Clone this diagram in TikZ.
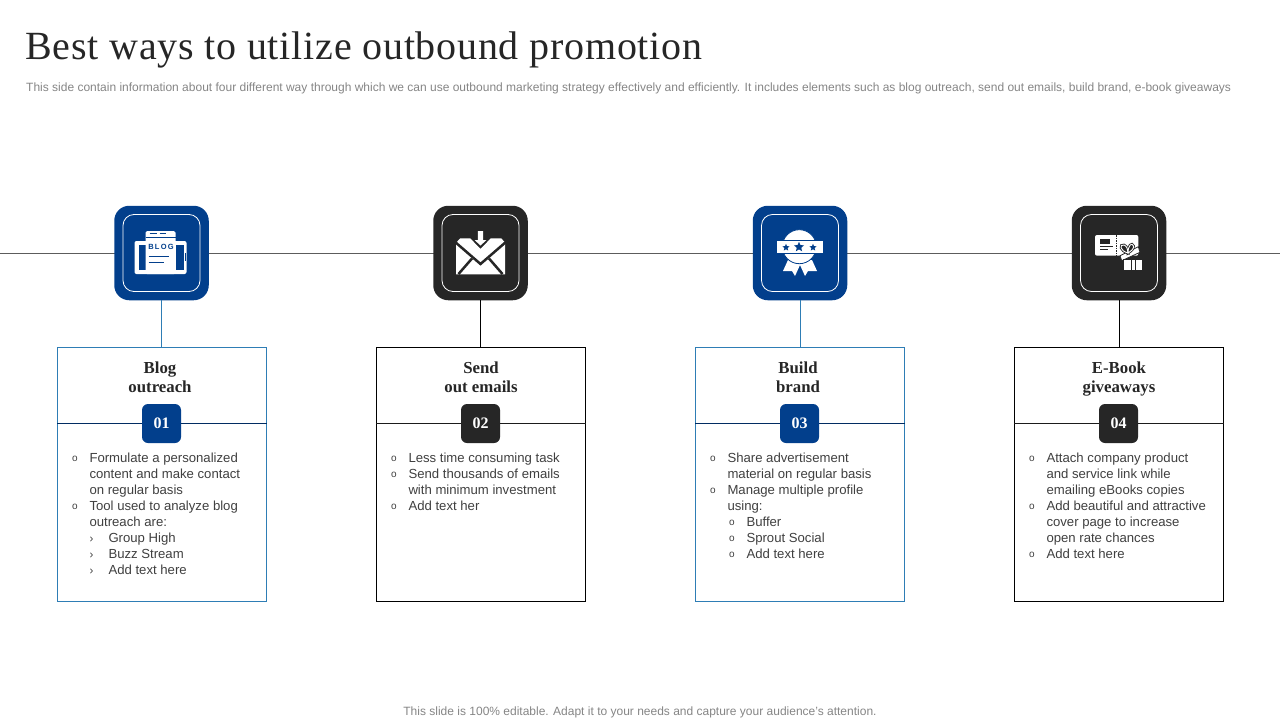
\documentclass[tikz,border=0pt]{standalone}
\usepackage{fontspec}
\usetikzlibrary{shapes.geometric}
\setmainfont{Liberation Sans}
\newfontfamily\titlefont[LetterSpace=1.9]{Liberation Serif}
\newfontfamily\headfont{Liberation Serif}
\definecolor{navy}{HTML}{023F8C}
\definecolor{coal}{HTML}{262626}
\definecolor{skyline}{HTML}{2E7DB5}
\definecolor{bodygray}{HTML}{404040}
\definecolor{notegray}{HTML}{858585}
\tikzset{
  tilebox/.style={rounded corners=15pt,minimum size=94.5pt,inner sep=0pt},
  tileinner/.style={draw=white,line width=0.8pt,rounded corners=11pt,minimum size=77pt,inner sep=0pt},
  cardbox/.style={minimum width=209pt,minimum height=254pt,inner sep=0pt,line width=1pt,fill=white},
  badgebox/.style={rounded corners=6pt,minimum size=39pt,inner sep=0pt,text=white,font=\headfont\fontsize{16}{16}\selectfont\bfseries},
  headtext/.style={align=center,text=coal,font=\headfont\fontsize{16.8}{19.5}\selectfont\bfseries},
  bodytext/.style={align=left,anchor=north west,inner sep=0pt,text=bodygray,font=\fontsize{13.15}{16}\selectfont},
  iconstar/.style={star,star points=5,star point ratio=2.2,fill=navy,inner sep=0pt}
}
\newcommand{\bulA}[1]{\makebox[18.8pt][l]{\hspace*{1.5pt}\raisebox{0.8pt}{\fontsize{10}{10}\selectfont o}}#1}
\newcommand{\bulB}[1]{\hspace*{19pt}\makebox[18.8pt][l]{\fontsize{11.5}{11.5}\selectfont›}#1}
\newcommand{\bulC}[1]{\hspace*{19pt}\makebox[18.8pt][l]{\hspace*{1.5pt}\raisebox{0.8pt}{\fontsize{10}{10}\selectfont o}}#1}
\newcommand{\cont}[1]{\hspace*{18.8pt}#1}
\newcommand{\bodyA}{\bulA{Formulate a personalized}\\\cont{content and make contact}\\\cont{on regular basis}\\\bulA{Tool used to analyze blog}\\\cont{outreach are:}\\\bulB{Group High}\\\bulB{Buzz Stream}\\\bulB{Add text here}}
\newcommand{\bodyB}{\bulA{Less time consuming task}\\\bulA{Send thousands of emails}\\\cont{with minimum investment}\\\bulA{Add text her}}
\newcommand{\bodyC}{\bulA{Share advertisement}\\\cont{material on regular basis}\\\bulA{Manage multiple profile}\\\cont{using:}\\\bulC{Buffer}\\\bulC{Sprout Social}\\\bulC{Add text here}}
\newcommand{\bodyD}{\bulA{Attach company product}\\\cont{and service link while}\\\cont{emailing eBooks copies}\\\bulA{Add beautiful and attractive}\\\cont{cover page to increase}\\\cont{open rate chances}\\\bulA{Add text here}}
% icons, drawn around the middle of the tile
\newcommand{\iconblog}{
  \fill[white,rounded corners=2pt] (-27,-12) rectangle (25,21);
  \fill[navy] (-23,-8) rectangle (-16,17);
  \fill[navy] (14,-8) rectangle (22,17);
  \fill[navy] (23,0) rectangle (23.8,8);
  \fill[white,rounded corners=1.5pt] (-16,-22) rectangle (14,21);
  \draw[navy,line width=0.8pt] (-16,-16) -- (14,-16);
  \draw[navy,line width=1.2pt] (-12,-19.5) -- (-5,-19.5) (-2,-19.5) -- (4,-19.5);
  \node[inner sep=0pt] (blogword) at (-0.5,-5.7) {\fontsize{7.5}{7.5}\selectfont\bfseries\textcolor{navy}{B\,L\,O\,G}};
  \draw[navy,line width=1.1pt] (-13,3.5) -- (7,3.5) (-13,9.5) -- (2,9.5);
}
\newcommand{\iconmail}{
  \fill[white] (-24.3,-10.3) -- (-20.3,-14.7) -- (-10.3,-14.7) -- (0,-4) -- (10.3,-14.7) -- (20.7,-14.7) -- (24.7,-10.3) -- (24.7,21.3) -- (-24.3,21.3) -- cycle;
  \draw[coal,line width=2.5pt] (-26,-11.5) -- (0,11) -- (26,-11.5);
  \draw[coal,line width=2.5pt] (-22,21) -- (-8.5,5.5) (22,21) -- (8.5,5.5);
  \fill[white] (-2.7,-22) -- (2.7,-22) -- (2.7,-13) -- (6,-13) -- (0,-7.5) -- (-6,-13) -- (-2.7,-13) -- cycle;
}
\newcommand{\iconbadge}{
  \fill[white] (-12,7) -- (-17,18) -- (-8,18) -- (-5,23) -- (0,12) -- (5,23) -- (8,18) -- (17,18) -- (12,7) -- cycle;
  \fill[white,draw=navy,line width=0.8pt] (-0.7,-6.3) circle (17);
  \fill[white,draw=navy,line width=0.6pt] (-24,-13) rectangle (23,0.5);
  \node[iconstar,minimum size=7.5pt] (starleft) at (-14,-5.5) {};
  \node[iconstar,minimum size=10.5pt] (starmid) at (-1,-6) {};
  \node[iconstar,minimum size=7.5pt] (starright) at (13,-5.5) {};
}
\newcommand{\icongift}{
  \fill[white,rounded corners=2pt] (-24,-18) rectangle (19.3,2.7);
  \draw[coal,line width=0.6pt,dash pattern=on 1.5pt off 1pt] (-2.3,-18) -- (-2.3,2.7);
  \fill[coal] (-19,-14) rectangle (-9,-9);
  \draw[coal,line width=0.5pt] (-19,-6.3) -- (-6,-6.3) (-19,-3.7) -- (-11,-3.7);
  \fill[white,draw=coal,line width=0.8pt] (1,2.7) -- (19.3,-6.3) -- (21,-0.7) -- (2.7,7.7) -- cycle;
  \fill[white,draw=coal,line width=0.8pt] (4.3,6.3) rectangle (23.7,17);
  \draw[coal,line width=0.7pt] (12,6.3) -- (12,17) (16,6.3) -- (16,17);
  \draw[coal,line width=2.6pt,fill=coal] (9,0) .. controls (1,-2) and (0,-9) .. (5,-8) .. controls (8,-7) and (9,-3) .. cycle;
  \draw[coal,line width=2.6pt,fill=coal] (9,0) .. controls (9,-8) and (13,-11) .. (14.5,-7) .. controls (15,-4) and (12,-2) .. cycle;
  \draw[white,line width=0.9pt] (9,0) .. controls (1,-2) and (0,-9) .. (5,-8) .. controls (8,-7) and (9,-3) .. cycle;
  \draw[white,line width=0.9pt] (9,0) .. controls (9,-8) and (13,-11) .. (14.5,-7) .. controls (15,-4) and (12,-2) .. cycle;
}

\begin{document}
\begin{tikzpicture}[x=1pt,y=-1pt]
  \useasboundingbox (0,0) rectangle (1280,720);
  \node[anchor=west,inner sep=0pt,text=coal,font=\titlefont\fontsize{40}{40}\selectfont] (title) at (25,49.5) {Best ways to utilize outbound promotion};
  \node[anchor=west,inner sep=0pt,text=notegray,font=\fontsize{12}{14}\selectfont] (subtitle) at (26,88) {This side contain information about four different way through which we can use outbound marketing strategy effectively and efficiently. It includes elements such as blog outreach, send out emails, build brand, e-book giveaways};
  \node[inner sep=0pt,text=notegray,font=\fontsize{12}{14}\selectfont] (footnote) at (640,712) {This slide is 100\% editable. Adapt it to your needs and capture your audience's attention.};
  \coordinate (lineleft) at (0,253.5);
  \coordinate (lineright) at (1280,253.5);
  \draw[color=coal!75,line width=0.8pt] (lineleft) -- (lineright);
  \foreach \cx/\tx/\hx/\tilecol/\edgecol/\num/\headA/\headB/\bodytxt/\icon in {
    162/161.5/160/navy/skyline/01/Blog/outreach/\bodyA/\iconblog,
    481/480.5/481/coal/black/02/Send/out emails/\bodyB/\iconmail,
    800/800/798/navy/skyline/03/Build/brand/\bodyC/\iconbadge,
    1119/1119/1119/coal/black/04/E-Book/giveaways/\bodyD/\icongift}
  {
    \node[tilebox,fill=\tilecol] (tile\num) at (\tx,253) {};
    \node[tileinner] (inner\num) at (\tx,253) {};
    \begin{scope}[shift={(\tx,253)}]
      \icon
    \end{scope}
    \node[cardbox,draw=\edgecol] (card\num) at (\cx,474.5) {};
    \draw[color=\edgecol,line width=1pt] (tile\num.south) -- (tile\num.south |- card\num.north);
    \node[badgebox,fill=\tilecol] (badge\num) at (\cx-0.5,423.5) {\num};
    \draw[color=\tilecol!70!black,line width=1pt] (card\num.west |- badge\num) -- (badge\num.west);
    \draw[color=\tilecol!70!black,line width=1pt] (badge\num.east) -- (card\num.east |- badge\num);
    \node[headtext] (head\num) at (\hx,379) {\headA\strut\\\headB\strut};
    \node[bodytext] (body\num) at (\cx-91.5,452.5) {\bodytxt};
  }
\end{tikzpicture}
\end{document}
